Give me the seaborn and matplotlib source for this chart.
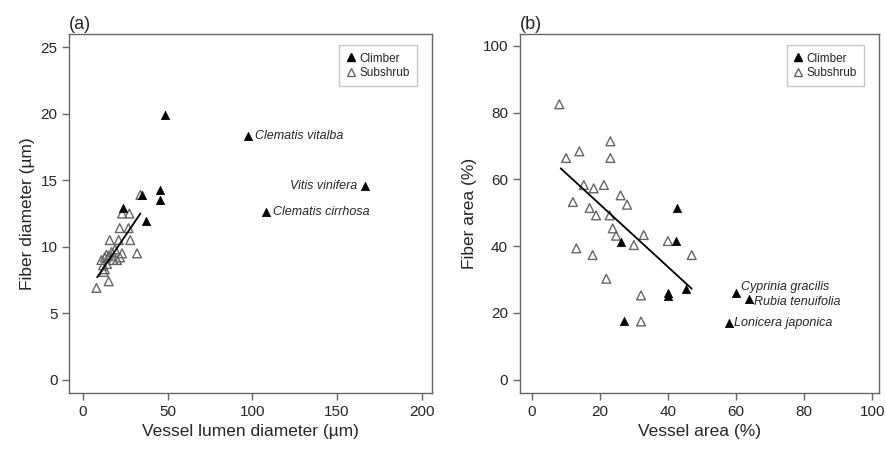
import numpy as np
import pandas as pd
import seaborn as sns
import matplotlib.pyplot as plt
from matplotlib.lines import Line2D

# (a) vessel lumen diameter (um) vs fiber diameter (um)
a_climb_x = [48.7, 45.7, 45.7, 34.9, 37.5, 23.7, 97.6, 166.3, 108.0]
a_climb_y = [19.9, 14.3, 13.5, 13.9, 11.9, 12.9, 18.3, 14.6, 12.6]
a_sub_x = [34.0, 23.2, 27.5, 21.8, 27.0, 15.9, 21.2, 28.0, 32.0, 23.2, 20.2, 15.3,
           13.0, 14.3, 12.4, 15.3, 8.1, 11.0, 12.0, 14.0, 17.0, 19.0, 18.0, 13.0, 22.0]
a_sub_y = [13.9, 12.5, 12.5, 11.4, 11.4, 10.5, 10.5, 10.5, 9.5, 9.5, 9.0, 9.3,
           9.2, 8.7, 8.1, 7.4, 6.9, 9.0, 8.6, 9.4, 9.6, 9.8, 9.0, 8.3, 9.2]
a_fit_x = [8.5, 34.0]
a_fit_y = [7.7, 12.5]
a_names = ['Clematis vitalba', 'Vitis vinifera', 'Clematis cirrhosa']
a_name_idx = [6, 7, 8]

# (b) vessel area (%) vs fiber area (%)
b_climb_x = [26.1, 27.1, 40.0, 40.0, 45.2, 42.8, 42.3, 59.9, 63.7, 57.8]
b_climb_y = [41.3, 17.4, 26.0, 25.0, 27.2, 51.5, 41.5, 26.0, 24.2, 16.9]
b_sub_x = [8.1, 10.1, 14.0, 23.1, 23.1, 15.3, 18.2, 21.2, 26.1, 28.0, 12.1, 17.0,
           18.9, 22.9, 23.8, 24.8, 30.0, 32.9, 13.1, 17.9, 21.9, 32.1, 32.1, 40.0, 47.0]
b_sub_y = [82.5, 66.4, 68.4, 71.4, 66.4, 58.3, 57.3, 58.3, 55.2, 52.4, 53.2, 51.4,
           49.2, 49.2, 45.3, 43.1, 40.3, 43.3, 39.3, 37.3, 30.2, 25.2, 17.4, 41.5, 37.3]
b_fit_x = [8.5, 47.0]
b_fit_y = [63.3, 27.2]
b_names = ['Cyprinia gracilis', 'Rubia tenuifolia', 'Lonicera japonica']
b_name_idx = [7, 8, 9]

sns.set_style('white')
plt.rcParams['font.family'] = ['Liberation Sans', 'DejaVu Sans']

fig = plt.figure(figsize=(8.87, 4.5), dpi=100)
ax1 = fig.add_axes([0.078, 0.127, 0.409, 0.797])
ax2 = fig.add_axes([0.586, 0.127, 0.405, 0.797])

grey = '#666666'


def panel(ax, cx, cy, sx, sy, fx, fy, names, idx, offsets):
    sns.lineplot(x=fx, y=fy, ax=ax, color='black', lw=1.3)
    sns.scatterplot(x=sx, y=sy, ax=ax, marker='^', s=40, color=grey,
                    facecolors='none', edgecolor=grey, linewidth=1)
    sns.scatterplot(x=cx, y=cy, ax=ax, marker='^', s=36, color='black',
                    edgecolor='black', linewidth=0.5)
    for n, i, (dx, dy, ha) in zip(names, idx, offsets):
        ax.annotate(n, (cx[i], cy[i]), xytext=(dx, dy), textcoords='offset points',
                    ha=ha, va='center', style='italic', fontsize=9)
    for s in ax.spines.values():
        s.set_color(grey)
        s.set_linewidth(1)
    ax.tick_params(direction='out', length=5, width=1, color=grey,
                   labelsize=11, left=True, bottom=True)
    h = [Line2D([], [], ls='', marker='^', color='black', ms=6),
         Line2D([], [], ls='', marker='^', mfc='none', mec=grey, ms=6)]
    ax.legend(h, ['Climber', 'Subshrub'], loc='upper right', fontsize=8.5,
              fancybox=False, edgecolor='#bbbbbb', handlelength=0.8,
              handletextpad=0.3, borderpad=0.6, labelspacing=0.2,
              bbox_to_anchor=(0.975, 0.985))


panel(ax1, a_climb_x, a_climb_y, a_sub_x, a_sub_y, a_fit_x, a_fit_y, a_names, a_name_idx,
      [(5, 0, 'left'), (-5, 0, 'right'), (5, 0, 'left')])
ax1.set_xlim(-8, 206)
ax1.set_ylim(-1, 26)
ax1.set_xticks([0, 50, 100, 150, 200])
ax1.set_yticks([0, 5, 10, 15, 20, 25])
ax1.set_xlabel('Vessel lumen diameter (µm)', fontsize=12.5)
ax1.set_ylabel('Fiber diameter (µm)', fontsize=12.5)
ax1.set_title('(a)', loc='left', fontsize=13, pad=4)

panel(ax2, b_climb_x, b_climb_y, b_sub_x, b_sub_y, b_fit_x, b_fit_y, b_names, b_name_idx,
      [(4, 4, 'left'), (4, -2, 'left'), (4, 0, 'left')])
ax2.set_xlim(-3.5, 102)
ax2.set_ylim(-4, 103.5)
ax2.set_xticks([0, 20, 40, 60, 80, 100])
ax2.set_yticks([0, 20, 40, 60, 80, 100])
ax2.set_xlabel('Vessel area (%)', fontsize=12.5)
ax2.set_ylabel('Fiber area (%)', fontsize=12.5)
ax2.set_title('(b)', loc='left', fontsize=13, pad=4)

fig.savefig('out.png', dpi=100)
